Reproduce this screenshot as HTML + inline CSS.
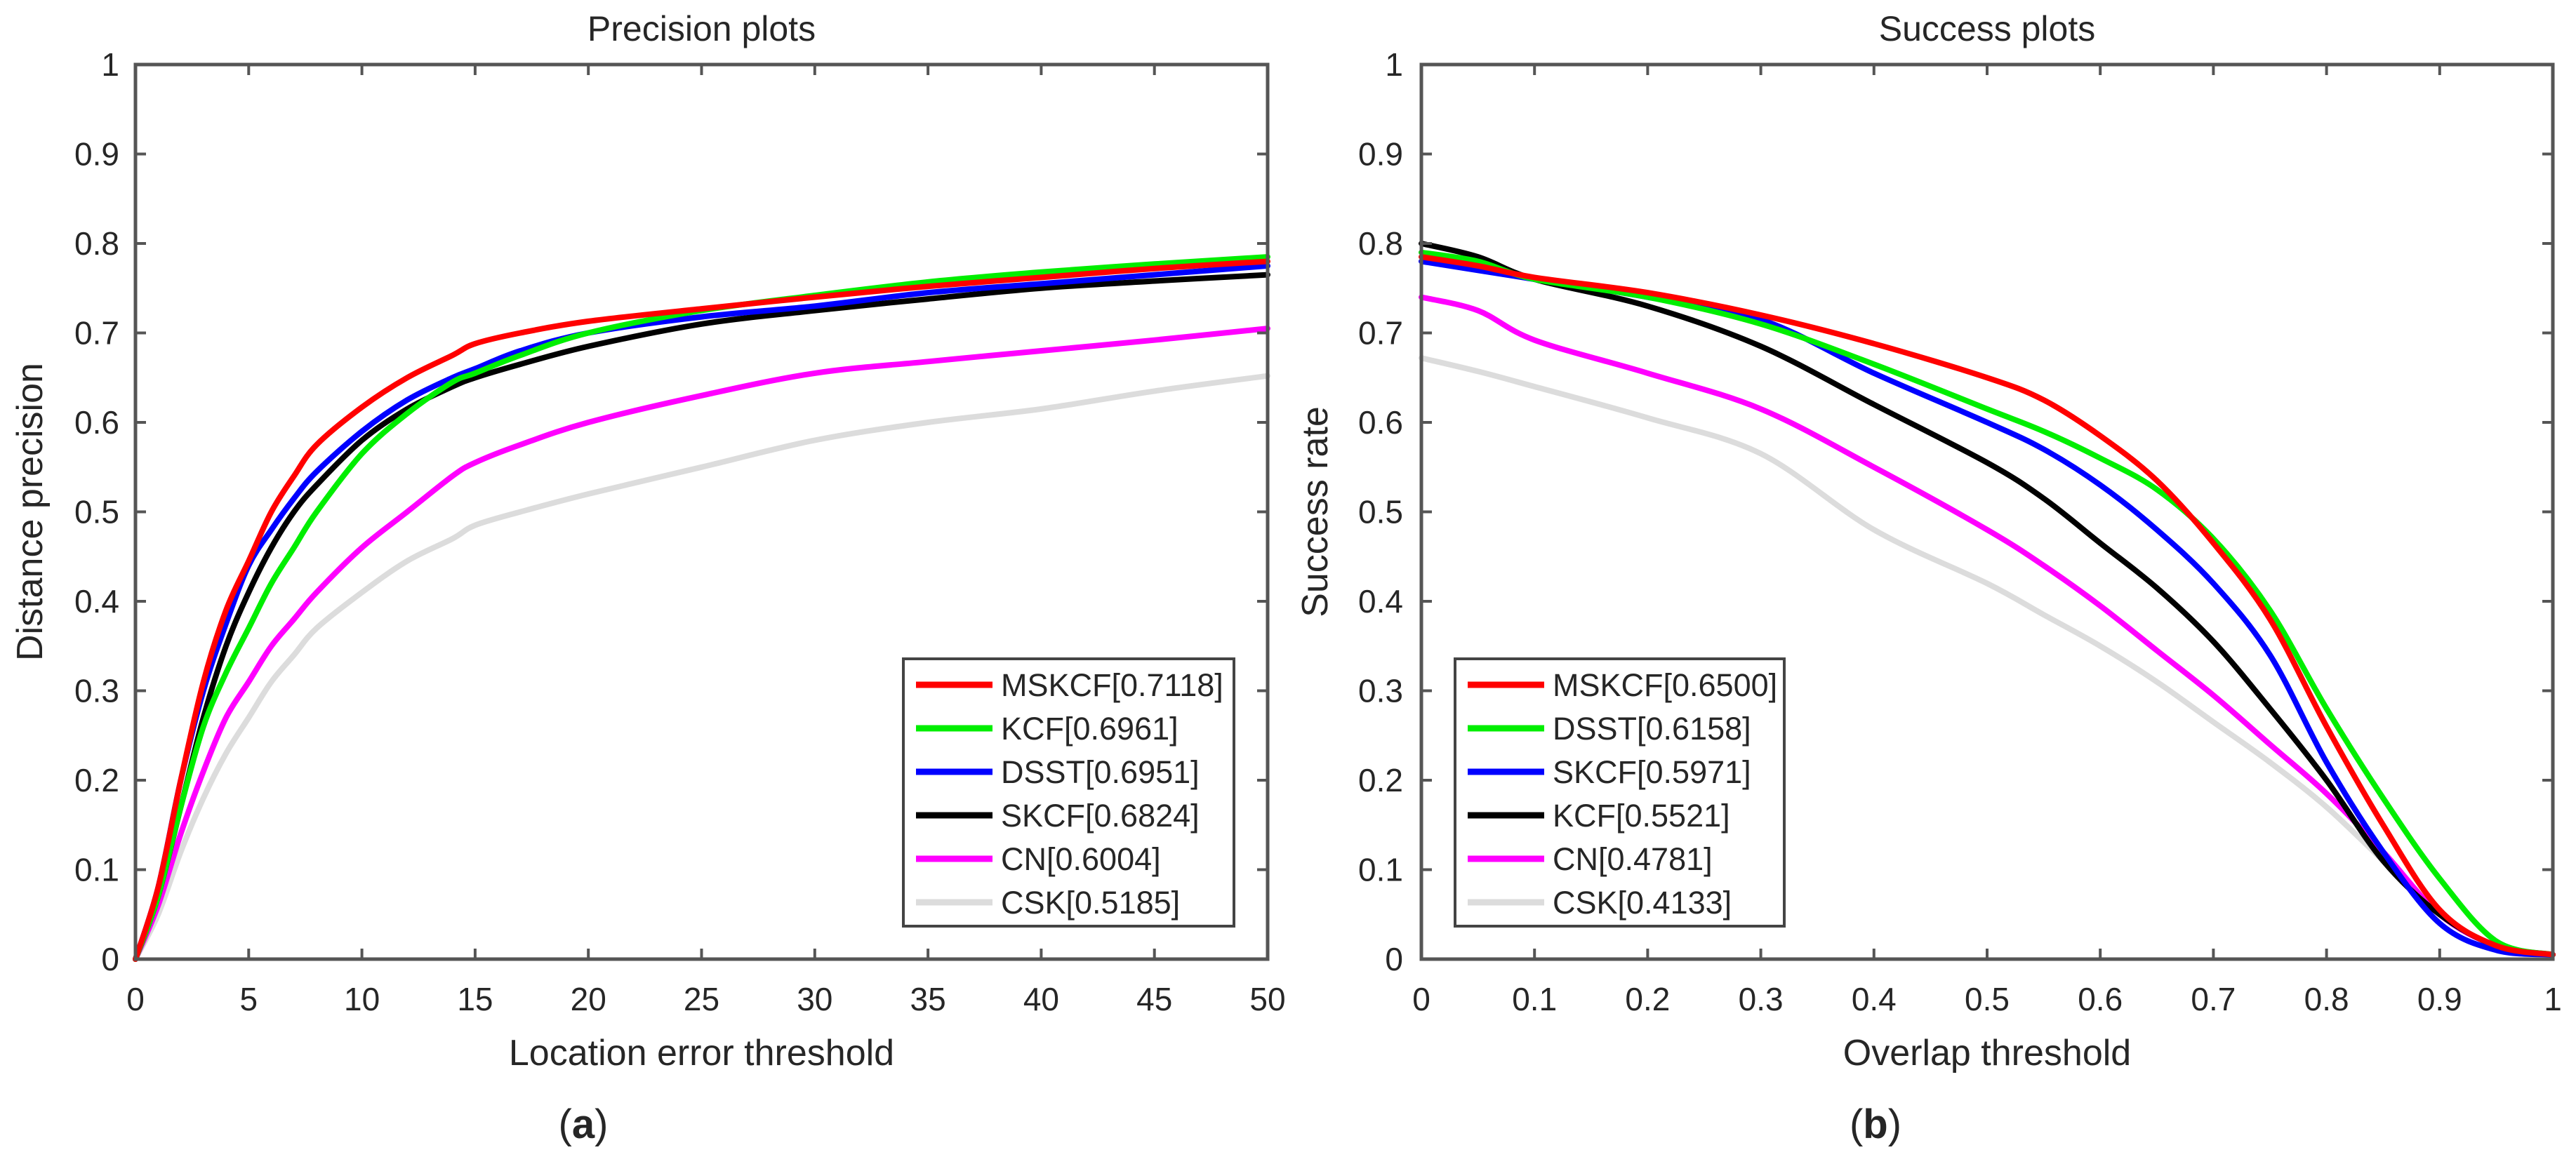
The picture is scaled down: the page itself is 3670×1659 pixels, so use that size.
<!DOCTYPE html>
<html><head><meta charset="utf-8"><style>
html,body{margin:0;padding:0;background:#fff;}
svg{display:block;}
text{font-family:"Liberation Sans",sans-serif;fill:#262626;}
</style></head><body>
<svg id="fig" width="3670" height="1659" viewBox="0 0 3670 1659" xmlns="http://www.w3.org/2000/svg">
<g id="pa"></g>
<g id="pb"></g>
</svg>
<script>
// ---- Precision plot data ----
const precX = [0,1,2,3,4,5,6,7,8,10,12,14,15,17,20,25,30,35,40,45,50];
const precMSKCF = [0,0.08,0.2,0.31,0.39,0.445,0.5,0.54,0.575,0.617,0.65,0.675,0.688,0.70,0.713,0.727,0.74,0.752,0.762,0.772,0.78];
const precKCF = [0,0.07,0.17,0.26,0.32,0.37,0.42,0.46,0.5,0.565,0.61,0.645,0.655,0.675,0.70,0.725,0.742,0.757,0.768,0.777,0.785];
const precDSST = [0,0.08,0.2,0.3,0.375,0.44,0.48,0.515,0.545,0.59,0.625,0.65,0.66,0.68,0.70,0.718,0.73,0.745,0.755,0.765,0.775];
const precSKCF = [0,0.07,0.17,0.27,0.35,0.41,0.46,0.5,0.53,0.58,0.615,0.64,0.65,0.665,0.685,0.71,0.725,0.738,0.75,0.758,0.765];
const precCN = [0,0.06,0.14,0.21,0.27,0.31,0.35,0.38,0.41,0.46,0.5,0.54,0.555,0.575,0.6,0.63,0.655,0.668,0.68,0.692,0.705];
const precCSK = [0,0.05,0.12,0.18,0.23,0.27,0.31,0.34,0.37,0.41,0.445,0.47,0.485,0.5,0.52,0.55,0.58,0.6,0.615,0.635,0.652];
const precXTicks = ['0','5','10','15','20','25','30','35','40','45','50'];
const precLegend = ['MSKCF[0.7118]','KCF[0.6961]','DSST[0.6951]','SKCF[0.6824]','CN[0.6004]','CSK[0.5185]'];
// ---- Success plot data ----
const succX = [0,0.05,0.1,0.2,0.3,0.4,0.5,0.55,0.6,0.65,0.7,0.75,0.8,0.85,0.9,0.95,1];
const succMSKCF = [0.785,0.775,0.762,0.745,0.72,0.688,0.65,0.625,0.585,0.535,0.465,0.38,0.26,0.15,0.055,0.015,0.005];
const succDSST = [0.79,0.78,0.76,0.74,0.71,0.665,0.615,0.59,0.56,0.525,0.47,0.39,0.28,0.18,0.09,0.02,0.005];
const succSKCF = [0.78,0.77,0.76,0.74,0.715,0.655,0.6,0.57,0.53,0.48,0.42,0.34,0.22,0.12,0.04,0.01,0.005];
const succKCF = [0.80,0.785,0.76,0.73,0.685,0.62,0.555,0.515,0.465,0.415,0.355,0.28,0.2,0.11,0.05,0.015,0.005];
const succCN = [0.74,0.725,0.692,0.655,0.615,0.55,0.48,0.44,0.395,0.345,0.295,0.24,0.185,0.12,0.05,0.015,0.005];
const succCSK = [0.672,0.657,0.64,0.605,0.565,0.48,0.42,0.385,0.35,0.31,0.265,0.22,0.17,0.11,0.05,0.015,0.005];
const succXTicks = ['0','0.1','0.2','0.3','0.4','0.5','0.6','0.7','0.8','0.9','1'];
const succLegend = ['MSKCF[0.6500]','DSST[0.6158]','SKCF[0.5971]','KCF[0.5521]','CN[0.4781]','CSK[0.4133]'];
const yTicks = ['0','0.1','0.2','0.3','0.4','0.5','0.6','0.7','0.8','0.9','1'];

const NS='http://www.w3.org/2000/svg';
function mk(parent,tag,attrs,txt){const e=document.createElementNS(NS,tag);for(const k in attrs)e.setAttribute(k,attrs[k]);if(txt!==undefined)e.textContent=txt;parent.appendChild(e);return e;}
function smoothPath(P){
  let d='M'+P[0][0].toFixed(1)+','+P[0][1].toFixed(1);
  for(let i=0;i<P.length-1;i++){
    const p0=P[i-1]||P[i],p1=P[i],p2=P[i+1],p3=P[i+2]||P[i+1];
    const c1=[p1[0]+(p2[0]-p0[0])/6,p1[1]+(p2[1]-p0[1])/6];
    const c2=[p2[0]-(p3[0]-p1[0])/6,p2[1]-(p3[1]-p1[1])/6];
    d+=' C'+c1[0].toFixed(1)+','+c1[1].toFixed(1)+' '+c2[0].toFixed(1)+','+c2[1].toFixed(1)+' '+p2[0].toFixed(1)+','+p2[1].toFixed(1);
  }
  return d;
}

function drawPlot(g,cfg){
  const L=cfg.L,R=cfg.R,T=92,B=1367;
  const sx=v=>L+(v-cfg.xmin)/(cfg.xmax-cfg.xmin)*(R-L);
  const sy=v=>B-v*(B-T);
  const t=mk(g,'text',{x:(L+R)/2,y:58,'font-size':50,'text-anchor':'middle'},cfg.title);
  
  
  cfg.series.slice().reverse().forEach((s)=>{
    const P=cfg.xs.map((x,i)=>[sx(x),sy(s.v[i])]);
    const p=mk(g,'path',{d:smoothPath(P),fill:'none',stroke:s.c,'stroke-width':8,'stroke-linejoin':'round','stroke-linecap':'round'});
    
    
  });
  const box=mk(g,'rect',{x:L,y:T,width:R-L,height:B-T,fill:'none',stroke:'#555','stroke-width':5});
  
  
  cfg.xTicks.forEach((lab,i)=>{
    const x=L+i*(R-L)/10;
    mk(g,'line',{x1:x,y1:B,x2:x,y2:B-15,stroke:'#555','stroke-width':4});
    mk(g,'line',{x1:x,y1:T,x2:x,y2:T+15,stroke:'#555','stroke-width':4});
    const tx=mk(g,'text',{x:x,y:1440,'font-size':46,'text-anchor':'middle'},lab);
    
    
  });
  yTicks.forEach((lab,i)=>{
    const y=sy(i/10);
    mk(g,'line',{x1:L,y1:y,x2:L+15,y2:y,stroke:'#555','stroke-width':4});
    mk(g,'line',{x1:R,y1:y,x2:R-15,y2:y,stroke:'#555','stroke-width':4});
    const ty=mk(g,'text',{x:cfg.ytx,y:y+16,'font-size':46,'text-anchor':'end'},lab);
    
    
  });
  const xl=mk(g,'text',{x:(L+R)/2,y:1518,'font-size':52,'text-anchor':'middle'},cfg.xlabel);
  
  
  const yl=mk(g,'text',{x:cfg.ylx,y:(T+B)/2,'font-size':52,'text-anchor':'middle',transform:'rotate(-90 '+cfg.ylx+' '+(T+B)/2+')'},cfg.ylabel);
  
  
  const lg=mk(g,'g',{});
  
  
  mk(lg,'rect',{x:cfg.lgx,y:939,width:cfg.lgw,height:381,fill:'#fff',stroke:'#444','stroke-width':4});
  cfg.legend.forEach((lab,i)=>{
    const y=976+i*62;
    const en=mk(lg,'g',{});
    
    
    mk(en,'line',{x1:cfg.lgx+18,y1:y,x2:cfg.lgx+127,y2:y,stroke:cfg.series[i].c,'stroke-width':9});
    mk(en,'text',{x:cfg.lgx+139,y:y+16,'font-size':45},lab);
  });
  const cap=mk(g,'text',{x:cfg.capx,y:1622,'font-size':58,'text-anchor':'middle','font-family':'Liberation Serif, serif',fill:'#000'});
  
  
  mk(cap,'tspan',{},'(');
  mk(cap,'tspan',{'font-weight':'bold'},cfg.cap);
  mk(cap,'tspan',{},')');
}
const cols=['#ff0000','#00ee00','#0000ff','#000000','#ff00ff','#dcdcdc'];
drawPlot(document.getElementById('pa'),{L:193,R:1806,xmin:0,xmax:50,xs:precX,title:'Precision plots',
  xlabel:'Location error threshold',ylabel:'Distance precision',ytx:170,ylx:60,xTicks:precXTicks,
  legend:precLegend,lgx:1287,lgw:471,capx:831,cap:'a',
  series:[{v:precMSKCF,c:cols[0]},{v:precKCF,c:cols[1]},{v:precDSST,c:cols[2]},{v:precSKCF,c:cols[3]},{v:precCN,c:cols[4]},{v:precCSK,c:cols[5]}]});
drawPlot(document.getElementById('pb'),{L:2025,R:3637,xmin:0,xmax:1,xs:succX,title:'Success plots',
  xlabel:'Overlap threshold',ylabel:'Success rate',ytx:1999,ylx:1891,xTicks:succXTicks,
  legend:succLegend,lgx:2073,lgw:469,capx:2672,cap:'b',
  series:[{v:succMSKCF,c:cols[0]},{v:succDSST,c:cols[1]},{v:succSKCF,c:cols[2]},{v:succKCF,c:cols[3]},{v:succCN,c:cols[4]},{v:succCSK,c:cols[5]}]});
</script>
</body></html>
